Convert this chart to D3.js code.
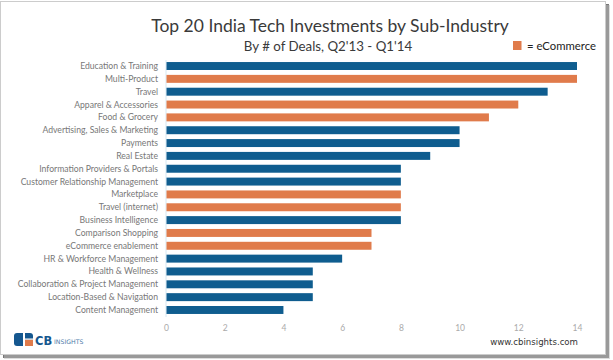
<!DOCTYPE html>
<html><head><meta charset="utf-8">
<script src="https://cdn.jsdelivr.net/npm/d3@7"></script>
<style>body{margin:0;background:#fff}svg{display:block}</style>
</head><body>
<svg id="c" width="613" height="360"></svg>
<script>
const categories = ["Education & Training","Multi-Product","Travel","Apparel & Accessories","Food & Grocery","Advertising, Sales & Marketing","Payments","Real Estate","Information Providers & Portals","Customer Relationship Management","Marketplace","Travel (internet)","Business Intelligence","Comparison Shopping","eCommerce enablement","HR & Workforce Management","Health & Wellness","Collaboration & Project Management","Location-Based & Navigation","Content Management"];
const deals = [14,14,13,12,11,10,10,9,8,8,8,8,8,7,7,6,5,5,5,4];
const ecommerce = [false,true,false,true,true,false,false,false,false,false,true,true,false,true,true,false,false,false,false,false];
const ticks = [0,2,4,6,8,10,12,14];

const svg = d3.select("#c");
const font = "Lato, 'Open Sans', sans-serif";

// frame with shadow
svg.append("rect").attr("x",3).attr("y",4).attr("width",606).attr("height",354).attr("fill","#777");
svg.append("rect").attr("x",4).attr("y",5).attr("width",606).attr("height",354).attr("fill","#bbb").attr("opacity",0.5);
svg.append("rect").attr("x",0.5).attr("y",1.5).attr("width",605).attr("height",353).attr("fill","#fff").attr("stroke","#ccc");

const x = d3.scaleLinear().domain([0,14]).range([166,577]);
const y = d3.scaleBand().domain(categories).range([59.6,316.4]).paddingInner(0.38).paddingOuter(0.19);

svg.append("text").attr("x",330).attr("y",32).attr("text-anchor","middle")
  .attr("font-family",font).attr("font-size",17.5).attr("fill","#3a3a3a").text("Top 20 India Tech Investments by Sub-Industry");
svg.append("text").attr("x",328).attr("y",51).attr("text-anchor","middle")
  .attr("font-family",font).attr("font-size",13.3).attr("fill","#3a3a3a").text("By # of Deals, Q2'13 - Q1'14");

// legend
svg.append("rect").attr("x",513).attr("y",41).attr("width",8.5).attr("height",9).attr("fill","#e07b4b");
svg.append("text").attr("x",527).attr("y",50).attr("font-family",font).attr("font-size",11.3).attr("fill","#222").text("= eCommerce");

// axis line
svg.append("line").attr("x1",x(0)).attr("x2",x(0)).attr("y1",60).attr("y2",317).attr("stroke","#d6e8f2").attr("stroke-width",1);

svg.append("g").selectAll("rect").data(categories).join("rect")
  .attr("x",x(0)+0.5).attr("y",d=>y(d)).attr("height",y.bandwidth())
  .attr("width",(d,i)=>x(deals[i])-x(0)-0.5)
  .attr("fill",(d,i)=>ecommerce[i]?"#e07b4b":"#0f5d8f");

svg.append("g").selectAll("text").data(categories).join("text")
  .attr("x",158).attr("y",d=>y(d)+y.bandwidth()/2).attr("dy","0.35em")
  .attr("text-anchor","end").attr("font-family",font).attr("font-size",8.65).attr("fill","#777").text(d=>d);

const ax = svg.append("g").attr("transform","translate(0,321)").call(d3.axisBottom(x).tickValues(ticks).tickSize(0).tickPadding(4));
ax.select(".domain").remove();
ax.selectAll("text").attr("font-family",font).attr("font-size",8.5).attr("fill","#aaa");

svg.append("text").attr("x",578).attr("y",345).attr("text-anchor","end")
  .attr("font-family","'DejaVu Sans', sans-serif").attr("font-size",8.6).attr("fill","#333").text("www.cbinsights.com");

// logo
const lg = svg.append("g").attr("transform","translate(14,333)");
lg.append("rect").attr("x",0).attr("y",0).attr("width",19).attr("height",13).attr("rx",3).attr("fill","#15578f");
lg.append("rect").attr("x",11).attr("y",6.5).attr("width",8).attr("height",6.5).attr("fill","#e07b4b");
lg.append("rect").attr("x",9).attr("y",0).attr("width",2).attr("height",13).attr("fill","#fff");
lg.append("rect").attr("x",11).attr("y",5.5).attr("width",8).attr("height",1.2).attr("fill","#fff");
lg.append("text").attr("x",21).attr("y",11.5).attr("font-family","'DejaVu Sans', sans-serif").attr("font-weight","bold").attr("font-size",11.5).attr("fill","#15578f").text("CB");
lg.append("text").attr("x",40).attr("y",11).attr("font-family","'DejaVu Sans', sans-serif").attr("font-size",6.2).attr("fill","#4a7aa8").text("INSIGHTS");
</script>
</body></html>
